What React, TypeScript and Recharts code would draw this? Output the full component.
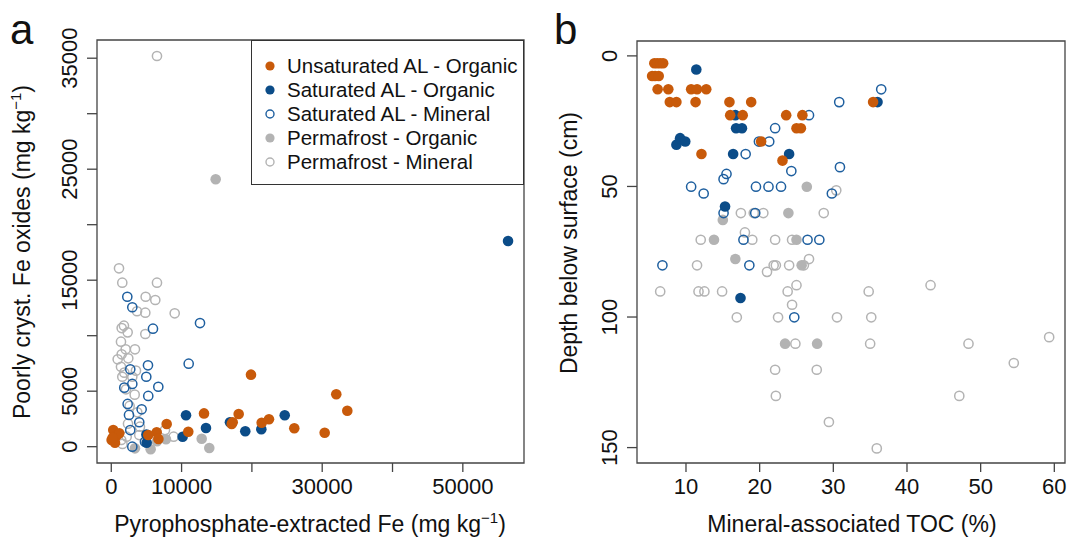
import { ScatterChart, Scatter, XAxis, YAxis, ReferenceArea, Legend } from 'recharts';

// panel a: pyrophosphate Fe (x) vs poorly crystalline Fe oxides (y), mg/kg
const unsatOrgA = [
  { x: 280, y: 1500 }, { x: 50, y: 600 }, { x: 770, y: 1000 }, { x: 1140, y: 1200 },
  { x: 530, y: 350 }, { x: 200, y: 800 }, { x: 7880, y: 2050 }, { x: 6460, y: 1300 },
  { x: 6700, y: 700 }, { x: 5260, y: 1050 }, { x: 10950, y: 1350 }, { x: 13190, y: 3000 },
  { x: 18120, y: 2950 }, { x: 17270, y: 2200 }, { x: 17130, y: 2050 }, { x: 19870, y: 6490 },
  { x: 21390, y: 2160 }, { x: 22430, y: 2470 }, { x: 26030, y: 1660 }, { x: 32000, y: 4720 },
  { x: 33570, y: 3240 }, { x: 30350, y: 1260 },
];
const satOrgA = [
  { x: 10630, y: 2830 }, { x: 10150, y: 900 }, { x: 13470, y: 1680 }, { x: 16880, y: 2200 },
  { x: 19060, y: 1390 }, { x: 21340, y: 1570 }, { x: 24670, y: 2830 }, { x: 5030, y: 360 },
  { x: 5000, y: 1100 }, { x: 56430, y: 18530 },
];
const satMinA = [
  { x: 2280, y: 13510 }, { x: 2990, y: 12560 }, { x: 5930, y: 10630 }, { x: 12620, y: 11140 },
  { x: 11010, y: 7480 }, { x: 5220, y: 7330 }, { x: 2700, y: 6970 }, { x: 4980, y: 6300 },
  { x: 2990, y: 5650 }, { x: 6690, y: 5400 }, { x: 1850, y: 5320 }, { x: 5260, y: 4570 },
  { x: 2330, y: 3850 }, { x: 4320, y: 3370 }, { x: 2520, y: 2860 }, { x: 3980, y: 2200 },
  { x: 2700, y: 1500 }, { x: 2990, y: 0 }, { x: 4790, y: 450 },
];
const permOrgA = [
  { x: 14850, y: 24090 }, { x: 12860, y: 720 }, { x: 13940, y: -120 }, { x: 3370, y: -150 },
  { x: 5600, y: -230 }, { x: 7780, y: 670 }, { x: 6500, y: 500 },
];
const permMinA = [
  { x: 6500, y: 35200 }, { x: 1100, y: 16070 }, { x: 1565, y: 14775 }, { x: 6500, y: 14775 },
  { x: 4890, y: 13510 }, { x: 6260, y: 13215 }, { x: 3660, y: 12200 }, { x: 4840, y: 12070 },
  { x: 9020, y: 12015 }, { x: 1480, y: 10690 }, { x: 1800, y: 10900 }, { x: 2330, y: 10300 },
  { x: 4840, y: 10150 }, { x: 1380, y: 9460 }, { x: 2050, y: 8770 }, { x: 3370, y: 8770 },
  { x: 1480, y: 8320 }, { x: 910, y: 7870 }, { x: 2420, y: 7960 }, { x: 1380, y: 7200 },
  { x: 1850, y: 6670 }, { x: 3510, y: 6850 }, { x: 1565, y: 6300 }, { x: 2990, y: 6300 },
  { x: 2090, y: 5170 }, { x: 3330, y: 4690 }, { x: 2610, y: 3670 }, { x: 3700, y: 3100 },
  { x: 2380, y: 2070 }, { x: 4080, y: 1800 }, { x: 2190, y: 900 }, { x: 1420, y: 600 },
  { x: 1600, y: 250 }, { x: 7640, y: 1500 }, { x: 8870, y: 900 }, { x: 5650, y: 750 },
  { x: 3980, y: 1050 },
];

// panel b: mineral-associated TOC (x, %) vs depth (y, cm)
const unsatOrgB = [
  { x: 5.7, y: 2.8 }, { x: 6.1, y: 2.8 }, { x: 6.5, y: 2.8 }, { x: 6.9, y: 2.8 },
  { x: 5.4, y: 7.7 }, { x: 5.8, y: 7.7 }, { x: 6.3, y: 7.7 },
  { x: 6.15, y: 12.8 }, { x: 7.6, y: 12.8 }, { x: 10.7, y: 12.8 }, { x: 11.5, y: 12.8 }, { x: 12.75, y: 12.8 },
  { x: 7.8, y: 17.7 }, { x: 8.7, y: 17.7 }, { x: 11.3, y: 17.7 }, { x: 15.9, y: 17.7 }, { x: 18.85, y: 17.7 }, { x: 35.4, y: 17.7 },
  { x: 16.0, y: 22.7 }, { x: 17.7, y: 22.7 }, { x: 23.6, y: 22.7 }, { x: 25.8, y: 22.7 },
  { x: 25.0, y: 27.7 }, { x: 25.6, y: 27.7 }, { x: 20.2, y: 32.8 }, { x: 12.1, y: 37.6 }, { x: 23.1, y: 40.1 },
];
const satOrgB = [
  { x: 11.4, y: 5.2 }, { x: 16.7, y: 22.7 }, { x: 16.8, y: 27.7 }, { x: 17.6, y: 27.7 },
  { x: 8.7, y: 34 }, { x: 9.2, y: 31.5 }, { x: 9.9, y: 32.8 }, { x: 16.4, y: 37.6 },
  { x: 24.0, y: 37.6 }, { x: 36.0, y: 17.7 }, { x: 15.3, y: 57.7 }, { x: 17.4, y: 92.7 },
];
const satMinB = [
  { x: 36.5, y: 12.8 }, { x: 30.8, y: 17.7 }, { x: 26.7, y: 22.7 }, { x: 22.1, y: 27.7 },
  { x: 21.3, y: 32.8 }, { x: 19.9, y: 32.8 }, { x: 18.1, y: 37.6 }, { x: 30.9, y: 42.6 },
  { x: 24.3, y: 44.1 }, { x: 15.5, y: 45.2 }, { x: 15.1, y: 47.2 }, { x: 10.7, y: 50.1 },
  { x: 19.5, y: 50.1 }, { x: 21.2, y: 50.1 }, { x: 22.9, y: 50.1 }, { x: 12.4, y: 52.7 },
  { x: 29.8, y: 52.7 }, { x: 15.1, y: 60.2 }, { x: 19.4, y: 60.2 }, { x: 17.8, y: 70.4 },
  { x: 26.5, y: 70.4 }, { x: 28.1, y: 70.4 }, { x: 6.8, y: 80.2 }, { x: 18.6, y: 80.2 },
  { x: 24.7, y: 100.1 },
];
const permOrgB = [
  { x: 26.4, y: 50.1 }, { x: 23.9, y: 60.2 }, { x: 15.0, y: 62.8 }, { x: 13.8, y: 70.4 },
  { x: 25.0, y: 70.4 }, { x: 16.7, y: 77.8 }, { x: 25.7, y: 80.2 }, { x: 23.45, y: 110.2 },
  { x: 27.8, y: 110.2 },
];
const permMinB = [
  { x: 30.4, y: 51.5 }, { x: 17.45, y: 60.2 }, { x: 19.2, y: 60.2 }, { x: 20.5, y: 60.2 },
  { x: 28.7, y: 60.2 }, { x: 18.0, y: 67.6 }, { x: 12.0, y: 70.4 }, { x: 19.0, y: 70.4 },
  { x: 22.1, y: 70.4 }, { x: 24.4, y: 70.4 }, { x: 26.7, y: 77.8 }, { x: 11.5, y: 80.2 },
  { x: 21.9, y: 80.2 }, { x: 22.2, y: 80.2 }, { x: 24.0, y: 80.2 }, { x: 26.0, y: 80.2 },
  { x: 21.0, y: 82.7 }, { x: 25.0, y: 87.8 }, { x: 43.2, y: 87.8 }, { x: 6.5, y: 90.2 },
  { x: 11.7, y: 90.2 }, { x: 12.5, y: 90.2 }, { x: 14.9, y: 90.2 }, { x: 23.8, y: 90.2 },
  { x: 34.8, y: 90.2 }, { x: 24.4, y: 95.3 }, { x: 16.9, y: 100.1 }, { x: 22.5, y: 100.1 },
  { x: 30.5, y: 100.1 }, { x: 35.15, y: 100.1 }, { x: 59.3, y: 107.7 }, { x: 24.85, y: 110.2 },
  { x: 35.0, y: 110.2 }, { x: 48.35, y: 110.2 }, { x: 54.5, y: 117.6 }, { x: 22.1, y: 120.2 },
  { x: 27.75, y: 120.2 }, { x: 22.2, y: 130.2 }, { x: 47.1, y: 130.2 }, { x: 29.4, y: 140.2 },
  { x: 35.9, y: 150.3 },
];

const ticksAX = [0, 10000, 20000, 30000, 40000, 50000];
const labelsAX = [0, 10000, 30000, 50000];
const ticksAY = [0, 5000, 10000, 15000, 20000, 25000, 30000, 35000];
const labelsAY = [0, 5000, 15000, 25000, 35000];
const ticksBX = [10, 20, 30, 40, 50, 60];
const ticksBY = [0, 50, 100, 150];

const ORANGE = '#C85A0A';
const NAVY = '#0B4C88';
const BLUE = '#1E5F9F';
const GREY = '#B3B3B3';
const FONT = '"Liberation Sans", Arial, sans-serif';

const series = [
  { name: 'Unsaturated AL - Organic', fill: ORANGE, stroke: 'none' },
  { name: 'Saturated AL - Organic', fill: NAVY, stroke: 'none' },
  { name: 'Saturated AL - Mineral', fill: 'none', stroke: BLUE },
  { name: 'Permafrost - Organic', fill: GREY, stroke: 'none' },
  { name: 'Permafrost - Mineral', fill: 'none', stroke: GREY },
];

const dot = (fill: string, stroke: string) => (p: any) => (
  <circle
    cx={p.cx}
    cy={p.cy}
    r={stroke === 'none' ? 5.3 : 4.6}
    fill={fill === 'none' ? 'white' : fill}
    fillOpacity={fill === 'none' ? 0 : 1}
    stroke={stroke}
    strokeWidth={1.5}
  />
);

const XTick = ({ x, y, payload, show }: any) =>
  show && !show.includes(payload.value) ? null : (
    <text x={x} y={y + 22} textAnchor="middle" fontSize={22} fontFamily={FONT} fill="#111">
      {payload.value}
    </text>
  );

const YTick = ({ x, y, payload, show }: any) => {
  if (show && !show.includes(payload.value)) return null;
  const bx = x - 10;
  return (
    <text x={bx} y={y} transform={`rotate(-90, ${bx}, ${y})`} textAnchor="middle" fontSize={22} fontFamily={FONT} fill="#111">
      {payload.value}
    </text>
  );
};

const LegendBox = () => (
  <div style={{ border: '1px solid #333', background: 'white', width: 273, height: 145, padding: '13px 0 0 0', boxSizing: 'border-box', fontFamily: FONT }}>
    {series.map((s) => (
      <div key={s.name} style={{ display: 'flex', alignItems: 'center', height: 24, fontSize: 20.5, color: '#111' }}>
        <svg width={36} height={24}>
          <circle cx={18} cy={12} r={s.stroke === 'none' ? 4.6 : 4} fill={s.fill === 'none' ? 'none' : s.fill} stroke={s.stroke} strokeWidth={1.4} />
        </svg>
        <span style={{ marginLeft: -1 }}>{s.name}</span>
      </div>
    ))}
  </div>
);

const frame = { stroke: '#444', strokeWidth: 1.3, fill: 'none', fillOpacity: 0 };

export default function App() {
  const domAX: [number, number] = [-2030, 58700];
  const domAY: [number, number] = [-1470, 36640];
  const domBX: [number, number] = [3.35, 61.45];
  const domBY: [number, number] = [-5.7, 155.9];
  return (
    <div style={{ position: 'absolute', left: 0, top: 0, width: 1067, height: 538, background: 'white', fontFamily: FONT }}>
      <div style={{ position: 'absolute', left: 0, top: 0 }}>
        <ScatterChart width={540} height={538} margin={{ top: 40, right: 16, bottom: 15, left: 37 }}>
          <XAxis type="number" dataKey="x" domain={domAX} ticks={ticksAX} allowDataOverflow axisLine={false}
            tickSize={9} tickMargin={0} height={60} tickLine={{ stroke: '#444', strokeWidth: 1.3 }}
            tick={<XTick show={labelsAX} />} interval={0} />
          <YAxis type="number" dataKey="y" domain={domAY} ticks={ticksAY} allowDataOverflow axisLine={false}
            tickSize={10} tickMargin={0} width={60} tickLine={{ stroke: '#444', strokeWidth: 1.3 }}
            tick={<YTick show={labelsAY} />} interval={0} />
          <Scatter name={series[4].name} data={permMinA} shape={dot(series[4].fill, series[4].stroke)} isAnimationActive={false} />
          <Scatter name={series[3].name} data={permOrgA} shape={dot(series[3].fill, series[3].stroke)} isAnimationActive={false} />
          <Scatter name={series[2].name} data={satMinA} shape={dot(series[2].fill, series[2].stroke)} isAnimationActive={false} />
          <Scatter name={series[1].name} data={satOrgA} shape={dot(series[1].fill, series[1].stroke)} isAnimationActive={false} />
          <Scatter name={series[0].name} data={unsatOrgA} shape={dot(series[0].fill, series[0].stroke)} isAnimationActive={false} />
          <ReferenceArea x1={domAX[0]} x2={domAX[1]} y1={domAY[0]} y2={domAY[1]} {...frame} ifOverflow="visible" />
          <Legend layout="vertical" align="center" verticalAlign="middle" content={<LegendBox />}
            wrapperStyle={{ left: 251, top: 40, width: 273, height: 145 }} />
        </ScatterChart>
      </div>
      <div style={{ position: 'absolute', left: 540, top: 0 }}>
        <ScatterChart width={527} height={538} margin={{ top: 41, right: 2, bottom: 15, left: 37 }}>
          <XAxis type="number" dataKey="x" domain={domBX} ticks={ticksBX} allowDataOverflow axisLine={false}
            tickSize={9} tickMargin={0} height={60} tickLine={{ stroke: '#444', strokeWidth: 1.3 }}
            tick={<XTick />} interval={0} />
          <YAxis type="number" dataKey="y" domain={domBY} ticks={ticksBY} reversed allowDataOverflow axisLine={false}
            tickSize={10} tickMargin={0} width={60} tickLine={{ stroke: '#444', strokeWidth: 1.3 }}
            tick={<YTick />} interval={0} />
          <Scatter name={series[4].name} data={permMinB} shape={dot(series[4].fill, series[4].stroke)} isAnimationActive={false} />
          <Scatter name={series[3].name} data={permOrgB} shape={dot(series[3].fill, series[3].stroke)} isAnimationActive={false} />
          <Scatter name={series[2].name} data={satMinB} shape={dot(series[2].fill, series[2].stroke)} isAnimationActive={false} />
          <Scatter name={series[1].name} data={satOrgB} shape={dot(series[1].fill, series[1].stroke)} isAnimationActive={false} />
          <Scatter name={series[0].name} data={unsatOrgB} shape={dot(series[0].fill, series[0].stroke)} isAnimationActive={false} />
          <ReferenceArea x1={domBX[0]} x2={domBX[1]} y1={domBY[0]} y2={domBY[1]} {...frame} ifOverflow="visible" />
        </ScatterChart>
      </div>
      <svg width={1067} height={538} style={{ position: 'absolute', left: 0, top: 0, pointerEvents: 'none' }} fontFamily={FONT} fill="#111">
        <text x={10} y={44} fontSize={42}>a</text>
        <text x={554} y={44} fontSize={42}>b</text>
        <text x={310} y={532} fontSize={23} textAnchor="middle">
          Pyrophosphate-extracted Fe (mg kg<tspan dy={-9} fontSize={15}>−1</tspan><tspan dy={9}>)</tspan>
        </text>
        <text x={30} y={252} fontSize={23} textAnchor="middle" transform="rotate(-90, 30, 252)">
          Poorly cryst. Fe oxides (mg  kg<tspan dy={-9} fontSize={15}>−1</tspan><tspan dy={9}>)</tspan>
        </text>
        <text x={852} y={532} fontSize={23} textAnchor="middle">Mineral-associated TOC (%)</text>
        <text x={577} y={243} fontSize={23} textAnchor="middle" transform="rotate(-90, 577, 243)">Depth below surface (cm)</text>
      </svg>
    </div>
  );
}
